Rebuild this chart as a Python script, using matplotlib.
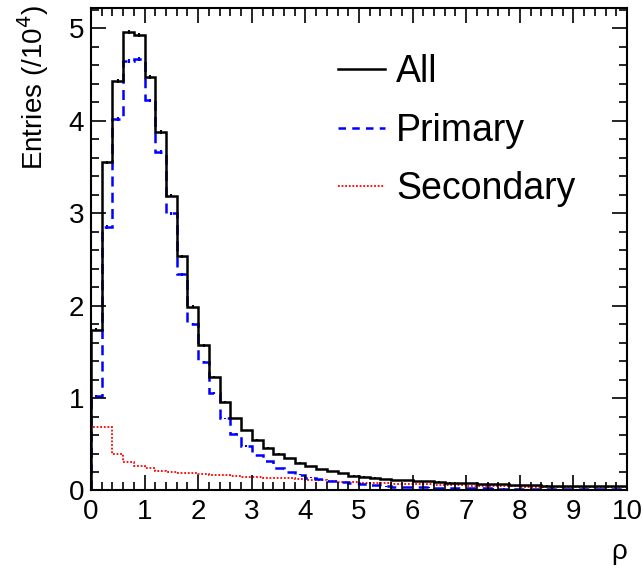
import numpy as np
import matplotlib.pyplot as plt
from matplotlib.lines import Line2D
from matplotlib.ticker import MultipleLocator

plt.rcParams['font.family'] = ['Liberation Sans', 'DejaVu Sans']

# rho binning: 50 bins of 0.2 from 0 to 10
edges = np.linspace(0, 10, 51)

# entries per bin, in units of 10^4
all_vals = [1.74, 3.55, 4.43, 4.96, 4.93, 4.47, 3.88, 3.19, 2.535, 1.99,
            1.57, 1.23, 0.96, 0.78, 0.65, 0.545, 0.46, 0.40, 0.35, 0.30,
            0.26, 0.23, 0.21, 0.185, 0.16, 0.15, 0.14, 0.125, 0.115, 0.11,
            0.10, 0.10, 0.095, 0.085, 0.08, 0.08, 0.072, 0.07, 0.068, 0.06,
            0.058, 0.055, 0.052, 0.05, 0.05, 0.05, 0.048, 0.048, 0.047, 0.046]
primary_vals = [1.02, 2.85, 4.02, 4.65, 4.67, 4.22, 3.66, 3.00, 2.34, 1.80,
                1.39, 1.05, 0.78, 0.61, 0.48, 0.38, 0.315, 0.24, 0.20, 0.17,
                0.14, 0.12, 0.10, 0.09, 0.08, 0.065, 0.055, 0.045, 0.04, 0.038,
                0.035, 0.033, 0.03, 0.028, 0.026, 0.025, 0.023, 0.022, 0.02, 0.019,
                0.018, 0.017, 0.016, 0.015, 0.015, 0.014, 0.013, 0.013, 0.012, 0.012]
secondary_vals = [0.69, 0.69, 0.40, 0.31, 0.26, 0.24, 0.21, 0.195, 0.19, 0.185,
                  0.175, 0.17, 0.165, 0.155, 0.15, 0.148, 0.14, 0.135, 0.13, 0.12,
                  0.112, 0.108, 0.10, 0.095, 0.09, 0.085, 0.08, 0.078, 0.073, 0.07,
                  0.068, 0.066, 0.063, 0.058, 0.055, 0.053, 0.05, 0.048, 0.046, 0.044,
                  0.04, 0.04, 0.038, 0.037, 0.036, 0.035, 0.035, 0.034, 0.034, 0.033]
labels = ['All', 'Primary', 'Secondary']

fig = plt.figure(figsize=(6.44, 5.69), dpi=100)
ax = fig.add_axes([0.1413, 0.138, 0.8323, 0.848])

centers = 0.5 * (edges[:-1] + edges[1:])
all_arr = np.array(all_vals)
prim_arr = np.array(primary_vals)

ax.stairs(secondary_vals, edges, color='red', lw=1.3, ls=(0, (1, 1)))
ax.stairs(primary_vals, edges, color='blue', lw=1.8, ls=(0, (4, 2.5)))
ax.errorbar(centers, prim_arr, yerr=np.sqrt(prim_arr * 1e4) / 1e4, fmt='none',
            ecolor='blue', elinewidth=1.5)
ax.stairs(all_vals, edges, color='black', lw=1.8)
ax.errorbar(centers, all_arr, yerr=np.sqrt(all_arr * 1e4) / 1e4, fmt='none',
            ecolor='black', elinewidth=1.5)

ax.set_xlim(0, 10)
ax.set_ylim(0, 5.22)
ax.xaxis.set_major_locator(MultipleLocator(1))
ax.xaxis.set_minor_locator(MultipleLocator(0.2))
ax.yaxis.set_major_locator(MultipleLocator(1))
ax.yaxis.set_minor_locator(MultipleLocator(0.2))
ax.tick_params(which='both', direction='in', top=True, right=True, width=1.2)
ax.tick_params(which='major', length=11)
ax.tick_params(which='minor', length=6)
ax.tick_params(axis='x', labelsize=20, pad=6)
ax.tick_params(axis='y', labelsize=20, pad=5)
for sp in ax.spines.values():
    sp.set_linewidth(1.5)

fig.text(0.052, 0.992, 'Entries (/10$^4$)', rotation=90, ha='center', va='top',
         fontsize=20)
fig.text(627 / 644, 1 - 552 / 569, 'ρ', ha='right', va='center', fontsize=20)

handles = [Line2D([], [], color='black', lw=1.8),
           Line2D([], [], color='blue', lw=1.8, ls=(0, (3, 2.5))),
           Line2D([], [], color='red', lw=1.3, ls=(0, (1, 1)))]
ax.legend(handles, labels, frameon=False, fontsize=27, loc='upper left',
          bbox_to_anchor=(0.412, 0.958), handlelength=1.25, handletextpad=0.3,
          labelspacing=0.6, borderpad=0.2)

fig.savefig('out.png', dpi=100)
